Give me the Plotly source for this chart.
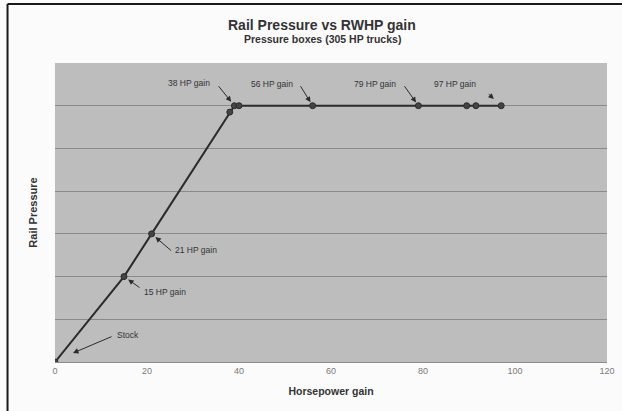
import plotly.graph_objects as go

# Data
hp_gain = [0, 15, 21, 38, 39, 40, 56, 79, 89.5, 91.5, 97]
rail_pressure = [0, 2, 3, 5.85, 6, 6, 6, 6, 6, 6, 6]
x_ticks = [0, 20, 40, 60, 80, 100, 120]

# labels: (text, x, y, arrow tail dx, dy, standoff, text xshift, yshift, head xshift, head yshift)
labels = [
    ("38 HP gain", 39, 6, -17, -21, 5, -45, 23, 0, 0),
    ("56 HP gain", 56, 6, -13, -21, 4, -41, 22, 0, 0),
    ("79 HP gain", 79, 6, -15, -21, 4, -43, 22, 0, 0),
    ("97 HP gain", 97, 6, -14, -13, 10, -46, 22, 0, 0),
    ("21 HP gain", 21, 3, 21, 18, 5, 44, -16, 0, 0),
    ("15 HP gain", 15, 2, 17, 12, 5, 41, -15, 0, 0),
    ("Stock", 0, 0, 40, -17, 0, 73, 27, 18, 9),
]

FONT = "Liberation Sans, Arial, sans-serif"
DARK = "#2b2b2b"

fig = go.Figure()
fig.add_trace(go.Scatter(
    x=hp_gain, y=rail_pressure, mode="lines+markers",
    line=dict(color=DARK, width=2),
    marker=dict(color="#444444", size=6, line=dict(color=DARK, width=1)),
    showlegend=False, hoverinfo="skip",
))

annotations = []
for text, x, y, ax, ay, so, tx, ty, hx, hy in labels:
    annotations.append(dict(
        x=x, y=y, xref="x", yref="y", text="", showarrow=True,
        ax=ax, ay=ay, axref="pixel", ayref="pixel", standoff=so,
        xshift=hx, yshift=hy,
        arrowhead=2, arrowsize=1.1, arrowwidth=1, arrowcolor=DARK,
    ))
    annotations.append(dict(
        x=x, y=y, xref="x", yref="y", text=text, showarrow=False,
        xshift=tx, yshift=ty,
        font=dict(family=FONT, size=8.5, color="#333333"),
    ))

# Title and subtitle
annotations.append(dict(
    x=0.484, y=1.127, xref="paper", yref="paper", xanchor="center", yanchor="middle",
    text="<b>Rail Pressure vs RWHP gain</b>", showarrow=False,
    font=dict(family=FONT, size=14, color="#333333"),
))
annotations.append(dict(
    x=0.484, y=1.080, xref="paper", yref="paper", xanchor="center", yanchor="middle",
    text="<b>Pressure boxes (305 HP trucks)</b>", showarrow=False,
    font=dict(family=FONT, size=10.5, color="#333333"),
))

fig.update_layout(
    width=622, height=411,
    margin=dict(l=55, r=15, t=63, b=49),
    paper_bgcolor="#fbfbfb",
    plot_bgcolor="#bdbdbd",
    font=dict(family=FONT, color="#333333"),
    xaxis=dict(
        range=[0, 120], tickvals=x_ticks, showgrid=False, zeroline=False,
        showline=True, linecolor="#8c8c8c", linewidth=1, automargin=False,
        ticks="", tickfont=dict(family=FONT, size=9, color="#7a7a7a"),
        title=dict(text="<b>Horsepower gain</b>", font=dict(family=FONT, size=10.5, color="#333333"), standoff=12),
        fixedrange=True,
    ),
    yaxis=dict(
        range=[0, 7], dtick=1, showgrid=True, gridcolor="#8a8a8a", gridwidth=1,
        zeroline=False, showticklabels=False, ticks="", automargin=False,
        title=dict(text="<b>Rail Pressure</b>", font=dict(family=FONT, size=11, color="#333333"), standoff=14),
        fixedrange=True,
    ),
    annotations=annotations,
    shapes=[
        dict(type="line", xref="paper", yref="paper", x0=-0.086, x1=-0.086, y0=-0.2, y1=1.197,
             line=dict(color="#1a1a1a", width=2)),
        dict(type="line", xref="paper", yref="paper", x0=-0.086, x1=1.05, y0=1.197, y1=1.197,
             line=dict(color="#1a1a1a", width=2)),
    ],
)

fig.write_html("out.html", config={"displayModeBar": False},
               post_script="document.body.style.margin='0';")
